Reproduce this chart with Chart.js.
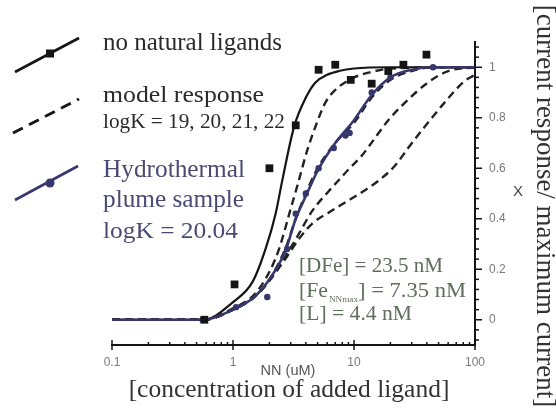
<!DOCTYPE html>
<html>
<head>
<meta charset="utf-8">
<script src="https://cdn.jsdelivr.net/npm/chart.js@4.4.1/dist/chart.umd.min.js"></script>
<style>
  html, body { margin: 0; padding: 0; background: #fff; }
  #wrap { width: 556px; height: 412px; }
</style>
</head>
<body>
<div id="wrap"><canvas id="chart" width="556" height="412"></canvas></div>
<script>
/* ---- data ---- */

// measured points, no natural ligands (black squares)
const SQ_X = [0.58, 1.03, 2.0, 3.3, 5.1, 7.0, 9.4, 14.0, 19.2, 25.6, 39.7];
const SQ_Y = [0, 0.14, 0.60, 0.77, 0.99, 1.01, 0.95, 0.935, 0.985, 1.01, 1.05];

// fitted curve, no natural ligands (solid black)
const NOLIG_X = [0.1, 0.57, 1.0, 1.45, 1.87, 2.25, 2.55, 3.2, 4.0, 4.8, 6.0, 7.5, 10, 20, 100];
const NOLIG_Y = [0, 0, 0.07, 0.15, 0.285, 0.42, 0.55, 0.765, 0.88, 0.94, 0.97, 0.985, 0.995, 1.0, 1.0];

// model responses (dashed), logK = 19, 20, 21, 22
const K19_X = [0.1, 0.57, 1.0, 1.5, 2.0, 2.4, 3.0, 3.4, 4.1, 4.8, 5.8, 7.0, 8.75, 10, 15, 20, 100];
const K19_Y = [0, 0, 0.045, 0.10, 0.19, 0.28, 0.44, 0.53, 0.67, 0.765, 0.86, 0.91, 0.945, 0.96, 0.985, 0.995, 1.0];

const K20_X = [0.1, 0.57, 1.0, 1.5, 2.0, 2.7, 3.3, 4.0, 5.0, 7.0, 10, 14, 20, 30, 45, 100];
const K20_Y = [0, 0, 0.04, 0.09, 0.16, 0.28, 0.40, 0.50, 0.60, 0.70, 0.78, 0.88, 0.95, 0.985, 1.0, 1.0];

const K21_X = [0.1, 0.57, 1.0, 1.5, 2.0, 2.7, 3.5, 4.5, 6.2, 7.9, 9.0, 11.6, 13.2, 19.2, 26.4, 41, 60, 100];
const K21_Y = [0, 0, 0.04, 0.09, 0.155, 0.25, 0.34, 0.43, 0.51, 0.565, 0.595, 0.65, 0.685, 0.79, 0.86, 0.94, 0.985, 1.0];

const K22_X = [0.1, 0.57, 1.0, 1.5, 2.0, 2.7, 3.5, 4.5, 6.2, 8.5, 11.6, 15.9, 21.8, 28, 38.5, 56, 82, 100];
const K22_Y = [0, 0, 0.04, 0.09, 0.155, 0.24, 0.32, 0.38, 0.425, 0.465, 0.505, 0.55, 0.61, 0.68, 0.765, 0.86, 0.945, 0.97];

// hydrothermal plume sample, fit line and measured points
const PLUME_X = [0.1, 0.57, 1.0, 1.5, 2.0, 2.7, 3.3, 4.0, 5.0, 7.0, 10, 14, 20, 30, 45, 100];
const PLUME_Y = [0, 0, 0.04, 0.09, 0.16, 0.27, 0.40, 0.49, 0.59, 0.70, 0.79, 0.89, 0.96, 0.99, 1.0, 1.0];
const PLUME_PT_X = [0.56, 1.06, 1.92, 2.8, 3.3, 4.0, 5.1, 6.8, 8.5, 9.2, 14, 20, 45];
const PLUME_PT_Y = [0, 0.05, 0.09, 0.28, 0.42, 0.50, 0.60, 0.68, 0.73, 0.74, 0.90, 0.96, 1.0];

// axes
const X_DECADES = [0.1, 1, 10, 100];
const X_LABELS = ["0.1", "1", "10", "100"];
const X_MINOR_MULT = [2, 3, 4, 5, 6, 7, 8, 9];
const Y_MAJOR = [0, 0.2, 0.4, 0.6, 0.8, 1];
const Y_LABELS = ["0", "0.2", "0.4", "0.6", "0.8", "1"];
const Y_MINOR_STEP = 0.04;

// texts
const LEGEND_LINES = ["no natural ligands", "model response", "logK = 19, 20, 21, 22",
                      "Hydrothermal", "plume sample", "logK = 20.04"];
const CONC_LINES = ["[DFe] = 23.5 nM", "[Fe", "NNmax", "] = 7.35 nM", "[L] = 4.4 nM"];
const X_TITLE = "NN (uM)";
const X_TITLE_BIG = "[concentration of added ligand]";
const Y_TITLE = "X";
const Y_TITLE_BIG = "[current response/ maximum current]";

const NAVY = "#37376f";
const INK = "#151515";
const SERIF = '"Liberation Serif", "Times New Roman", serif';
const SANS = '"Liberation Sans", Arial, sans-serif';

/* ---- helpers ---- */
function pts(xs, ys) {
    return xs.map((v, i) => ({ x: v, y: ys[i] }));
}

function buildXTicks() {
    const out = [];
    for (let d = 0; d < X_DECADES.length; d++) {
        out.push(X_DECADES[d]);
        if (d === X_DECADES.length - 1) break;
        for (const m of X_MINOR_MULT) out.push(+(X_DECADES[d] * m).toPrecision(3));
    }
    return out;
}

function buildYTicks() {
    const out = [];
    for (let k = -2; k <= 27; k++) out.push(+(k * Y_MINOR_STEP).toFixed(2));
    return out;
}

function isMajorY(v) {
    return Y_MAJOR.some(m => Math.abs(m - v) < 1e-6);
}

function dashed(xs, ys) {
    return {
        data: pts(xs, ys),
        borderColor: "#222",
        borderWidth: 2.4,
        borderDash: [8, 5],
        pointRadius: 0,
        cubicInterpolationMode: "monotone"
    };
}

// draw a string so it fills a given width at roughly the given size
function fitText(ctx, text, x, y, size, width) {
    ctx.font = size + "px " + SERIF;
    const w = ctx.measureText(text).width;
    ctx.save();
    ctx.translate(x, y);
    ctx.scale(width / w, 1);
    ctx.fillText(text, 0, 0);
    ctx.restore();
    return width;
}

/* ---- tick marks (minor short, major long) ---- */
const tickMarks = {
    id: "tickMarks",
    afterDraw(chart) {
        const { ctx, scales: { x, y } } = chart;
        ctx.save();
        ctx.strokeStyle = INK;
        ctx.lineWidth = 1.5;

        const base = x.top;
        for (const t of x.ticks) {
            const px = x.getPixelForValue(t.value);
            const major = X_DECADES.includes(t.value);
            ctx.beginPath();
            ctx.moveTo(px, base - (major ? 5 : 3));
            ctx.lineTo(px, base + (major ? 5 : 1));
            ctx.stroke();
        }

        const yb = y.left;
        for (const t of y.ticks) {
            const py = y.getPixelForValue(t.value);
            const major = isMajorY(t.value);
            ctx.beginPath();
            ctx.moveTo(yb - 1, py);
            ctx.lineTo(yb + (major ? 7 : 4), py);
            ctx.stroke();
        }
        ctx.restore();
    }
};

/* ---- legend, annotations, titles ---- */
const textLayer = {
    id: "textLayer",
    afterDraw(chart) {
        const ctx = chart.ctx;
        ctx.save();

        // legend icons
        ctx.strokeStyle = INK;
        ctx.lineWidth = 2.6;
        ctx.beginPath(); ctx.moveTo(15, 72); ctx.lineTo(79, 38); ctx.stroke();
        ctx.fillStyle = INK;
        ctx.fillRect(46, 49.5, 8, 8);

        ctx.setLineDash([11, 7]);
        ctx.lineWidth = 3;
        ctx.beginPath(); ctx.moveTo(13, 133); ctx.lineTo(79, 99); ctx.stroke();
        ctx.setLineDash([]);

        ctx.strokeStyle = NAVY;
        ctx.lineWidth = 2.6;
        ctx.beginPath(); ctx.moveTo(15, 200); ctx.lineTo(78, 166); ctx.stroke();
        ctx.fillStyle = NAVY;
        ctx.beginPath(); ctx.arc(50, 183, 4.5, 0, Math.PI * 2); ctx.fill();

        // legend text
        ctx.textAlign = "left";
        ctx.textBaseline = "alphabetic";
        ctx.fillStyle = "#2a2a2a";
        fitText(ctx, LEGEND_LINES[0], 103, 50, 25, 179);
        fitText(ctx, LEGEND_LINES[1], 103, 102, 24, 161);
        fitText(ctx, LEGEND_LINES[2], 103, 128, 20, 182);
        ctx.fillStyle = "#4a4a74";
        fitText(ctx, LEGEND_LINES[3], 103, 177, 25, 142);
        fitText(ctx, LEGEND_LINES[4], 103, 207, 25, 141);
        fitText(ctx, LEGEND_LINES[5], 103, 238, 24, 135);

        // concentrations
        ctx.fillStyle = "#5e6e5b";
        fitText(ctx, CONC_LINES[0], 299, 272, 21.5, 144);
        let cx = 299;
        cx += fitText(ctx, CONC_LINES[1], cx, 297, 21.5, 29);
        cx += fitText(ctx, CONC_LINES[2], cx + 1, 302, 9, 29) + 1;
        fitText(ctx, CONC_LINES[3], cx, 297, 21.5, 466 - cx);
        fitText(ctx, CONC_LINES[4], 299, 320, 21.5, 113);

        // x titles
        ctx.textAlign = "center";
        ctx.fillStyle = "#555";
        ctx.font = "14.5px " + SANS;
        ctx.fillText(X_TITLE, 288, 375);
        ctx.fillStyle = "#333";
        ctx.font = "25.5px " + SERIF;
        ctx.fillText(X_TITLE_BIG, 289, 397);

        // y titles
        ctx.fillStyle = "#444";
        ctx.font = "15px " + SANS;
        ctx.textBaseline = "middle";
        ctx.fillText(Y_TITLE, 518, 192);

        ctx.translate(544, 206);
        ctx.rotate(Math.PI / 2);
        ctx.fillStyle = "#333";
        ctx.font = "27px " + SERIF;
        ctx.fillText(Y_TITLE_BIG, 0, 0);

        ctx.restore();
    }
};

/* ---- chart ---- */
const xTicks = buildXTicks();
const yTicks = buildYTicks();

new Chart(document.getElementById("chart"), {
    type: "line",
    data: {
        datasets: [
            {
                data: pts(SQ_X, SQ_Y),
                showLine: false,
                pointStyle: "rect",
                pointRadius: 5.5,
                pointBackgroundColor: INK,
                pointBorderWidth: 0
            },
            {
                data: pts(PLUME_PT_X, PLUME_PT_Y),
                showLine: false,
                pointRadius: 3.2,
                pointBackgroundColor: NAVY,
                pointBorderWidth: 0
            },
            {
                data: pts(PLUME_X, PLUME_Y),
                borderColor: NAVY,
                borderWidth: 2.6,
                pointRadius: 0,
                cubicInterpolationMode: "monotone"
            },
            {
                data: pts(NOLIG_X, NOLIG_Y),
                borderColor: INK,
                borderWidth: 2.2,
                pointRadius: 0,
                cubicInterpolationMode: "monotone"
            },
            dashed(K19_X, K19_Y),
            dashed(K20_X, K20_Y),
            dashed(K21_X, K21_Y),
            dashed(K22_X, K22_Y)
        ]
    },
    options: {
        responsive: false,
        animation: false,
        devicePixelRatio: 1,
        layout: { padding: { left: 112, top: 42, right: 0, bottom: 0 } },
        plugins: { legend: { display: false }, tooltip: { enabled: false } },
        scales: {
            x: {
                type: "logarithmic",
                position: "bottom",
                min: 0.1,
                max: 100,
                afterBuildTicks: s => { s.ticks = xTicks.map(v => ({ value: v })); },
                afterFit: s => { s.height = 67; },
                grid: { display: false, drawTicks: false },
                border: { display: true, color: INK, width: 2 },
                ticks: {
                    autoSkip: false,
                    maxRotation: 0,
                    padding: 10,
                    color: "#7a7a7a",
                    font: { family: SANS, size: 12 },
                    callback: v => {
                        const i = X_DECADES.indexOf(v);
                        return i >= 0 ? X_LABELS[i] : "";
                    }
                }
            },
            y: {
                type: "linear",
                position: "right",
                min: -0.1,
                max: 1.1,
                afterBuildTicks: s => { s.ticks = yTicks.map(v => ({ value: v })); },
                afterFit: s => { s.width = 81; },
                grid: { display: false, drawTicks: false },
                border: { display: true, color: INK, width: 2 },
                ticks: {
                    autoSkip: false,
                    padding: 14,
                    color: "#7a7a7a",
                    font: { family: SANS, size: 12 },
                    callback: v => {
                        const i = Y_MAJOR.findIndex(m => Math.abs(m - v) < 1e-6);
                        return i >= 0 ? Y_LABELS[i] : "";
                    }
                }
            }
        }
    },
    plugins: [tickMarks, textLayer]
});
</script>
</body>
</html>
